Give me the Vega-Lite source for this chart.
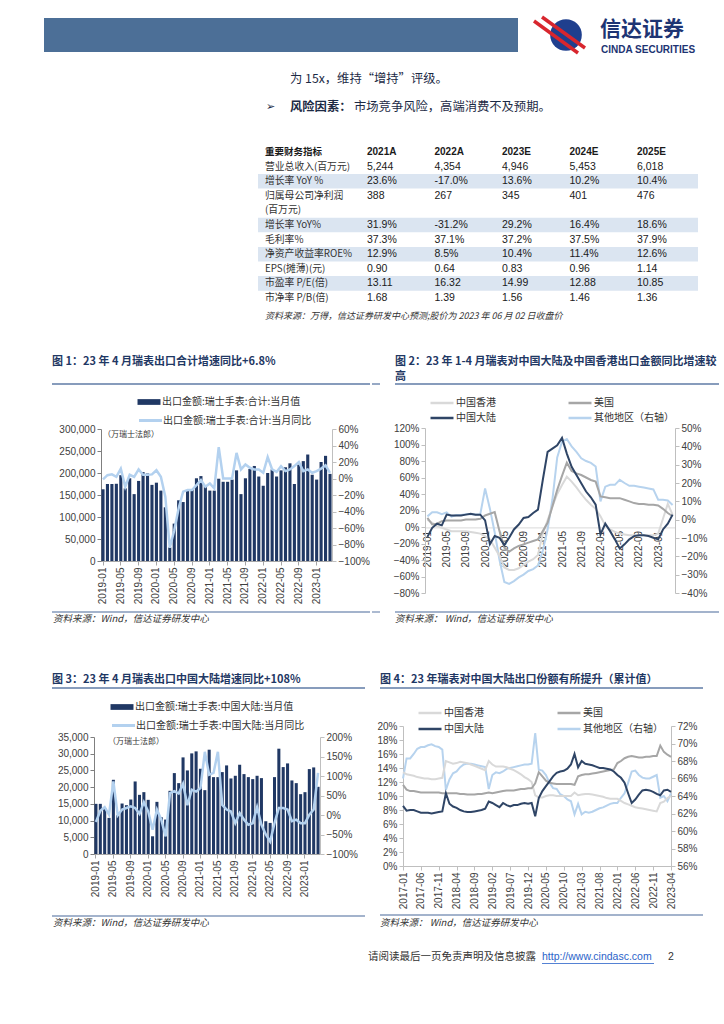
{
"$schema": "https://vega.github.io/schema/vega-lite/v6.json",
"padding": 0,
"background": "#ffffff",
"spacing": 0,
"resolve": {"scale": {"color": "independent"}, "legend": {"color": "independent"}},
"config": {
 "view": {"stroke": null},
 "font": "Noto Sans CJK SC",
 "axis": {"grid": false, "labelFont": "Liberation Sans", "labelFontSize": 10, "labelColor": "#404040", "domainColor": "#bfbfbf", "tickColor": "#bfbfbf", "tickSize": 4, "labelPadding": 2},
 "legend": {"labelFont": "Noto Sans CJK SC", "labelFontSize": 10, "labelColor": "#333333", "labelLimit": 400, "padding": 0}
},
"datasets": {
 "tbl": [
  {"指标": "重要财务指标", "2021A": "2021A", "2022A": "2022A", "2023E": "2023E", "2024E": "2024E", "2025E": "2025E"},
  {"指标": "营业总收入(百万元)", "2021A": "5,244", "2022A": "4,354", "2023E": "4,946", "2024E": "5,453", "2025E": "6,018"},
  {"指标": "增长率 YoY %", "2021A": "23.6%", "2022A": "-17.0%", "2023E": "13.6%", "2024E": "10.2%", "2025E": "10.4%"},
  {"指标": "归属母公司净利润\n(百万元)", "2021A": "388", "2022A": "267", "2023E": "345", "2024E": "401", "2025E": "476"},
  {"指标": "增长率 YoY%", "2021A": "31.9%", "2022A": "-31.2%", "2023E": "29.2%", "2024E": "16.4%", "2025E": "18.6%"},
  {"指标": "毛利率%", "2021A": "37.3%", "2022A": "37.1%", "2023E": "37.2%", "2024E": "37.5%", "2025E": "37.9%"},
  {"指标": "净资产收益率ROE%", "2021A": "12.9%", "2022A": "8.5%", "2023E": "10.4%", "2024E": "11.4%", "2025E": "12.6%"},
  {"指标": "EPS(摊薄)(元)", "2021A": "0.90", "2022A": "0.64", "2023E": "0.83", "2024E": "0.96", "2025E": "1.14"},
  {"指标": "市盈率 P/E(倍)", "2021A": "13.11", "2022A": "16.32", "2023E": "14.99", "2024E": "12.88", "2025E": "10.85"},
  {"指标": "市净率 P/B(倍)", "2021A": "1.68", "2022A": "1.39", "2023E": "1.56", "2024E": "1.46", "2025E": "1.36"}
 ],
 "c1": [
  {"月份":"2019-01","当月值":163000,"当月同比":-0.01},{"月份":"2019-02","当月值":175000,"当月同比":0.04},{"月份":"2019-03","当月值":175000,"当月同比":0.05},{"月份":"2019-04","当月值":175500,"当月同比":0.02},
  {"月份":"2019-05","当月值":195000,"当月同比":0.12},{"月份":"2019-06","当月值":165000,"当月同比":-0.10},{"月份":"2019-07","当月值":188000,"当月同比":0.045},{"月份":"2019-08","当月值":152000,"当月同比":0.02},
  {"月份":"2019-09","当月值":182000,"当月同比":0.11},{"月份":"2019-10","当月值":202000,"当月同比":0.045},{"月份":"2019-11","当月值":199000,"当月同比":0.045},{"月份":"2019-12","当月值":173000,"当月同比":0.05},
  {"月份":"2020-01","当月值":178000,"当月同比":0.10},{"月份":"2020-02","当月值":160000,"当月同比":0.02},{"月份":"2020-03","当月值":122000,"当月同比":-0.22},{"月份":"2020-04","当月值":31000,"当月同比":-0.84},
  {"月份":"2020-05","当月值":85000,"当月同比":-0.63},{"月份":"2020-06","当月值":138000,"当月同比":-0.36},{"月份":"2020-07","当月值":134000,"当月同比":-0.16},{"月份":"2020-08","当月值":160000,"当月同比":-0.14},
  {"月份":"2020-09","当月值":162000,"当月同比":-0.14},{"月份":"2020-10","当月值":188000,"当月同比":-0.08},{"月份":"2020-11","当月值":193000,"当月同比":-0.02},{"月份":"2020-12","当月值":171000,"当月同比":-0.10},
  {"月份":"2021-01","当月值":160000,"当月同比":-0.06},{"月份":"2021-02","当月值":160000,"当月同比":-0.12},{"月份":"2021-03","当月值":187000,"当月同比":0.38},{"月份":"2021-04","当月值":180000,"当月同比":0.0},
  {"月份":"2021-05","当月值":180000,"当月同比":0.0},{"月份":"2021-06","当月值":185000,"当月同比":0.0},{"月份":"2021-07","当月值":206000,"当月同比":0.31},{"月份":"2021-08","当月值":152000,"当月同比":0.11},
  {"月份":"2021-09","当月值":188000,"当月同比":0.17},{"月份":"2021-10","当月值":209000,"当月同比":0.13},{"月份":"2021-11","当月值":216000,"当月同比":0.11},{"月份":"2021-12","当月值":192000,"当月同比":0.11},
  {"月份":"2022-01","当月值":171000,"当月同比":0.07},{"月份":"2022-02","当月值":200000,"当月同比":0.26},{"月份":"2022-03","当月值":208000,"当月同比":0.11},{"月份":"2022-04","当月值":192000,"当月同比":0.08},
  {"月份":"2022-05","当月值":206000,"当月同比":0.15},{"月份":"2022-06","当月值":213000,"当月同比":0.09},{"月份":"2022-07","当月值":222000,"当月同比":0.11},{"月份":"2022-08","当月值":175000,"当月同比":0.15},
  {"月份":"2022-09","当月值":219000,"当月同比":0.20},{"月份":"2022-10","当月值":227000,"当月同比":0.09},{"月份":"2022-11","当月值":242000,"当月同比":0.11},{"月份":"2022-12","当月值":196000,"当月同比":0.07},
  {"月份":"2023-01","当月值":185000,"当月同比":0.09},{"月份":"2023-02","当月值":225000,"当月同比":0.12},{"月份":"2023-03","当月值":239000,"当月同比":0.16},{"月份":"2023-04","当月值":198000,"当月同比":0.068}
 ],
 "c3": [
  {"月份":"2019-01","当月值":15000,"当月同比":-0.18},{"月份":"2019-02","当月值":15000,"当月同比":0.11},{"月份":"2019-03","当月值":13800,"当月同比":0.20},{"月份":"2019-04","当月值":10800,"当月同比":0.01},
  {"月份":"2019-05","当月值":22200,"当月同比":0.86},{"月份":"2019-06","当月值":11600,"当月同比":-0.01},{"月份":"2019-07","当月值":15100,"当月同比":0.14},{"月份":"2019-08","当月值":14600,"当月同比":0.18},
  {"月份":"2019-09","当月值":16300,"当月同比":0.22},{"月份":"2019-10","当月值":21700,"当月同比":0.18},{"月份":"2019-11","当月值":17700,"当月同比":0.03},{"月份":"2019-12","当月值":18500,"当月同比":0.33},
  {"月份":"2020-01","当月值":16200,"当月同比":0.09},{"月份":"2020-02","当月值":5300,"当月同比":-0.38},{"月份":"2020-03","当月值":15600,"当月同比":0.14},{"月份":"2020-04","当月值":11000,"当月同比":-0.12},
  {"月份":"2020-05","当月值":10300,"当月同比":-0.55},{"月份":"2020-06","当月值":18900,"当月同比":0.56},{"月份":"2020-07","当月值":24200,"当月同比":0.61},{"月份":"2020-08","当月值":21200,"当月同比":0.55},
  {"月份":"2020-09","当月值":28900,"当月同比":0.80},{"月份":"2020-10","当月值":25000,"当月同比":0.25},{"月份":"2020-11","当月值":30100,"当月同比":0.65},{"月份":"2020-12","当月值":30700,"当月同比":0.60},
  {"月份":"2021-01","当月值":25500,"当月同比":0.69},{"月份":"2021-02","当月值":19100,"当月同比":1.62},{"月份":"2021-03","当月值":31200,"当月同比":1.03},{"月份":"2021-04","当月值":23000,"当月同比":1.08},
  {"月份":"2021-05","当月值":23000,"当月同比":1.62},{"月份":"2021-06","当月值":24500,"当月同比":0.26},{"月份":"2021-07","当月值":26500,"当月同比":0.14},{"月份":"2021-08","当月值":22600,"当月同比":0.09},
  {"月份":"2021-09","当月值":23400,"当月同比":-0.21},{"月份":"2021-10","当月值":26700,"当月同比":0.05},{"月份":"2021-11","当月值":23900,"当月同比":-0.12},{"月份":"2021-12","当月值":23000,"当月同比":-0.25},
  {"月份":"2022-01","当月值":22400,"当月同比":-0.21},{"月份":"2022-02","当月值":23400,"当月同比":0.20},{"月份":"2022-03","当月值":22700,"当月同比":-0.25},{"月份":"2022-04","当月值":9800,"当月同比":-0.50},
  {"月份":"2022-05","当月值":9300,"当月同比":-0.68},{"月份":"2022-06","当月值":23000,"当月同比":-0.21},{"月份":"2022-07","当月值":31500,"当月同比":0.18},{"月份":"2022-08","当月值":26000,"当月同比":0.18},
  {"月份":"2022-09","当月值":27100,"当月同比":0.14},{"月份":"2022-10","当月值":22000,"当月同比":-0.16},{"月份":"2022-11","当月值":21200,"当月同比":-0.12},{"月份":"2022-12","当月值":17900,"当月同比":-0.21},
  {"月份":"2023-01","当月值":18500,"当月同比":-0.21},{"月份":"2023-02","当月值":25400,"当月同比":0.01},{"月份":"2023-03","当月值":25900,"当月同比":0.14},{"月份":"2023-04","当月值":20100,"当月同比":1.08}
 ],
 "c2": [
  {"月份":"2019-01","中国香港":0.09,"美国":0.11,"中国大陆":-0.12,"其他地区":0.018},{"月份":"2019-02","中国香港":0.05,"美国":0.03,"中国大陆":-0.01,"其他地区":0.04},
  {"月份":"2019-03","中国香港":0.01,"美国":0.04,"中国大陆":0.04,"其他地区":0.04},{"月份":"2019-04","中国香港":-0.01,"美国":0.07,"中国大陆":0.02,"其他地区":0.03},
  {"月份":"2019-05","中国香港":-0.03,"美国":0.08,"中国大陆":0.15,"其他地区":0.04},{"月份":"2019-06","中国香港":-0.05,"美国":0.08,"中国大陆":0.14,"其他地区":0.016},
  {"月份":"2019-07","中国香港":-0.05,"美国":0.08,"中国大陆":0.14,"其他地区":0.025},{"月份":"2019-08","中国香港":-0.05,"美国":0.08,"中国大陆":0.14,"其他地区":0.025},
  {"月份":"2019-09","中国香港":-0.05,"美国":0.09,"中国大陆":0.15,"其他地区":0.03},{"月份":"2019-10","中国香港":-0.06,"美国":0.09,"中国大陆":0.16,"其他地区":0.03},
  {"月份":"2019-11","中国香港":-0.07,"美国":0.09,"中国大陆":0.15,"其他地区":0.028},{"月份":"2019-12","中国香港":-0.08,"美国":0.10,"中国大陆":0.15,"其他地区":0.03},
  {"月份":"2020-01","中国香港":-0.11,"美国":0.14,"中国大陆":0.08,"其他地区":0.17},{"月份":"2020-02","中国香港":-0.15,"美国":0.16,"中国大陆":-0.21,"其他地区":0.06},
  {"月份":"2020-03","中国香港":-0.25,"美国":0.18,"中国大陆":-0.11,"其他地区":-0.07},{"月份":"2020-04","中国香港":-0.35,"美国":-0.05,"中国大陆":-0.13,"其他地区":-0.22},
  {"月份":"2020-05","中国香港":-0.49,"美国":-0.25,"中国大陆":-0.22,"其他地区":-0.34},{"月份":"2020-06","中国香港":-0.52,"美国":-0.30,"中国大陆":-0.13,"其他地区":-0.35},
  {"月份":"2020-07","中国香港":-0.52,"美国":-0.26,"中国大陆":-0.03,"其他地区":-0.335},{"月份":"2020-08","中国香港":-0.50,"美国":-0.23,"中国大陆":0.03,"其他地区":-0.315},
  {"月份":"2020-09","中国香港":-0.46,"美国":-0.21,"中国大陆":0.11,"其他地区":-0.30},{"月份":"2020-10","中国香港":-0.42,"美国":-0.19,"中国大陆":0.12,"其他地区":-0.28},
  {"月份":"2020-11","中国香港":-0.39,"美国":-0.17,"中国大陆":0.17,"其他地区":-0.27},{"月份":"2020-12","中国香港":-0.34,"美国":-0.15,"中国大陆":0.21,"其他地区":-0.25},
  {"月份":"2021-01","中国香港":-0.08,"美国":-0.05,"中国大陆":0.57,"其他地区":-0.17},{"月份":"2021-02","中国香港":0.08,"美国":0.05,"中国大陆":0.91,"其他地区":-0.054},
  {"月份":"2021-03","中国香港":0.25,"美国":0.25,"中国大陆":0.95,"其他地区":0.11},{"月份":"2021-04","中国香港":0.40,"美国":0.45,"中国大陆":0.99,"其他地区":0.34},
  {"月份":"2021-05","中国香港":0.51,"美国":0.62,"中国大陆":1.08,"其他地区":0.425},{"月份":"2021-06","中国香港":0.61,"美国":0.78,"中国大陆":0.89,"其他地区":0.44},
  {"月份":"2021-07","中国香港":0.55,"美国":0.68,"中国大陆":0.73,"其他地区":0.40},{"月份":"2021-08","中国香港":0.48,"美国":0.65,"中国大陆":0.63,"其他地区":0.37},
  {"月份":"2021-09","中国香港":0.40,"美国":0.63,"中国大陆":0.53,"其他地区":0.335},{"月份":"2021-10","中国香港":0.33,"美国":0.60,"中国大陆":0.43,"其他地区":0.32},
  {"月份":"2021-11","中国香港":0.27,"美国":0.57,"中国大陆":0.36,"其他地区":0.31},{"月份":"2021-12","中国香港":0.22,"美国":0.55,"中国大陆":0.27,"其他地区":0.29},
  {"月份":"2022-01","中国香港":0.13,"美国":0.37,"中国大陆":-0.09,"其他地区":0.10},{"月份":"2022-02","中国香港":0.02,"美国":0.36,"中国大陆":0.04,"其他地区":0.18},
  {"月份":"2022-03","中国香港":-0.03,"美国":0.35,"中国大陆":-0.05,"其他地区":0.19},{"月份":"2022-04","中国香港":-0.06,"美国":0.35,"中国大陆":-0.15,"其他地区":0.19},
  {"月份":"2022-05","中国香港":-0.08,"美国":0.35,"中国大陆":-0.26,"其他地区":0.217},{"月份":"2022-06","中国香港":-0.09,"美国":0.33,"中国大陆":-0.21,"其他地区":0.20},
  {"月份":"2022-07","中国香港":-0.10,"美国":0.31,"中国大陆":-0.15,"其他地区":0.185},{"月份":"2022-08","中国香港":-0.10,"美国":0.29,"中国大陆":-0.11,"其他地区":0.185},
  {"月份":"2022-09","中国香港":-0.10,"美国":0.28,"中国大陆":-0.10,"其他地区":0.18},{"月份":"2022-10","中国香港":-0.10,"美国":0.28,"中国大陆":-0.10,"其他地区":0.175},
  {"月份":"2022-11","中国香港":-0.10,"美国":0.27,"中国大陆":-0.11,"其他地区":0.17},{"月份":"2022-12","中国香港":-0.10,"美国":0.27,"中国大陆":-0.13,"其他地区":0.165},
  {"月份":"2023-01","中国香港":-0.08,"美国":0.26,"中国大陆":-0.15,"其他地区":0.109},{"月份":"2023-02","中国香港":0.10,"美国":0.22,"中国大陆":-0.03,"其他地区":0.109},
  {"月份":"2023-03","中国香港":0.28,"美国":0.17,"中国大陆":0.04,"其他地区":0.105},{"月份":"2023-04","中国香港":0.15,"美国":0.13,"中国大陆":0.15,"其他地区":0.08}
 ],
 "c4": [
  {"月份":"2017-01","中国香港":0.134,"美国":0.116,"中国大陆":0.086,"其他地区":0.660},{"月份":"2017-02","中国香港":0.131,"美国":0.109,"中国大陆":0.079,"其他地区":0.683},
  {"月份":"2017-03","中国香港":0.130,"美国":0.107,"中国大陆":0.080,"其他地区":0.683},{"月份":"2017-04","中国香港":0.129,"美国":0.107,"中国大陆":0.080,"其他地区":0.688},
  {"月份":"2017-05","中国香港":0.127,"美国":0.106,"中国大陆":0.078,"其他地区":0.694},{"月份":"2017-06","中国香港":0.126,"美国":0.105,"中国大陆":0.076,"其他地区":0.696},
  {"月份":"2017-07","中国香港":0.125,"美国":0.105,"中国大陆":0.076,"其他地区":0.696},{"月份":"2017-08","中国香港":0.125,"美国":0.105,"中国大陆":0.076,"其他地区":0.698},
  {"月份":"2017-09","中国香港":0.124,"美国":0.105,"中国大陆":0.075,"其他地区":0.699},{"月份":"2017-10","中国香港":0.124,"美国":0.105,"中国大陆":0.076,"其他地区":0.697},
  {"月份":"2017-11","中国香港":0.125,"美国":0.105,"中国大陆":0.077,"其他地区":0.696},{"月份":"2017-12","中国香港":0.126,"美国":0.104,"中国大陆":0.078,"其他地区":0.693},
  {"月份":"2018-01","中国香港":0.150,"美国":0.104,"中国大陆":0.104,"其他地区":0.647},{"月份":"2018-02","中国香港":0.148,"美国":0.104,"中国大陆":0.089,"其他地区":0.659},
  {"月份":"2018-03","中国香港":0.146,"美国":0.104,"中国大陆":0.085,"其他地区":0.666},{"月份":"2018-04","中国香港":0.147,"美国":0.104,"中国大陆":0.083,"其他地区":0.668},
  {"月份":"2018-05","中国香港":0.149,"美国":0.103,"中国大陆":0.080,"其他地区":0.673},{"月份":"2018-06","中国香港":0.148,"美国":0.103,"中国大陆":0.078,"其他地区":0.676},
  {"月份":"2018-07","中国香港":0.147,"美国":0.102,"中国大陆":0.077,"其他地区":0.677},{"月份":"2018-08","中国香港":0.145,"美国":0.102,"中国大陆":0.077,"其他地区":0.677},
  {"月份":"2018-09","中国香港":0.143,"美国":0.102,"中国大陆":0.078,"其他地区":0.676},{"月份":"2018-10","中国香港":0.141,"美国":0.103,"中国大陆":0.079,"其他地区":0.675},
  {"月份":"2018-11","中国香港":0.139,"美国":0.103,"中国大陆":0.080,"其他地区":0.674},{"月份":"2018-12","中国香港":0.137,"美国":0.104,"中国大陆":0.082,"其他地区":0.673},
  {"月份":"2019-01","中国香港":0.150,"美国":0.105,"中国大陆":0.092,"其他地区":0.648},{"月份":"2019-02","中国香港":0.145,"美国":0.104,"中国大陆":0.090,"其他地区":0.664},
  {"月份":"2019-03","中国香港":0.142,"美国":0.105,"中国大陆":0.087,"其他地区":0.667},{"月份":"2019-04","中国香港":0.142,"美国":0.106,"中国大陆":0.084,"其他地区":0.666},
  {"月份":"2019-05","中国香港":0.142,"美国":0.107,"中国大陆":0.090,"其他地区":0.668},{"月份":"2019-06","中国香港":0.141,"美国":0.108,"中国大陆":0.087,"其他地区":0.671},
  {"月份":"2019-07","中国香港":0.139,"美国":0.108,"中国大陆":0.085,"其他地区":0.672},{"月份":"2019-08","中国香港":0.137,"美国":0.108,"中国大陆":0.087,"其他地区":0.673},
  {"月份":"2019-09","中国香港":0.134,"美国":0.109,"中国大陆":0.087,"其他地区":0.674},{"月份":"2019-10","中国香港":0.131,"美国":0.110,"中国大陆":0.089,"其他地区":0.675},
  {"月份":"2019-11","中国香港":0.127,"美国":0.110,"中国大陆":0.090,"其他地区":0.676},{"月份":"2019-12","中国香港":0.124,"美国":0.111,"中国大陆":0.089,"其他地区":0.676},
  {"月份":"2020-01","中国香港":0.120,"美国":0.111,"中国大陆":0.090,"其他地区":0.677},{"月份":"2020-02","中国香港":0.101,"美国":0.118,"中国大陆":0.071,"其他地区":0.712},
  {"月份":"2020-03","中国香港":0.098,"美国":0.134,"中国大陆":0.097,"其他地区":0.670},{"月份":"2020-04","中国香港":0.098,"美国":0.128,"中国大陆":0.107,"其他地区":0.669},
  {"月份":"2020-05","中国香港":0.100,"美国":0.122,"中国大陆":0.114,"其他地区":0.664},{"月份":"2020-06","中国香港":0.101,"美国":0.119,"中国大陆":0.121,"其他地区":0.655},
  {"月份":"2020-07","中国香港":0.101,"美国":0.118,"中国大陆":0.128,"其他地区":0.649},{"月份":"2020-08","中国香港":0.100,"美国":0.117,"中国大陆":0.133,"其他地区":0.648},
  {"月份":"2020-09","中国香港":0.100,"美国":0.117,"中国大陆":0.135,"其他地区":0.642},{"月份":"2020-10","中国香港":0.100,"美国":0.117,"中国大陆":0.136,"其他地区":0.640},
  {"月份":"2020-11","中国香港":0.100,"美国":0.117,"中国大陆":0.139,"其他地区":0.636},{"月份":"2020-12","中国香港":0.100,"美国":0.117,"中国大陆":0.145,"其他地区":0.634},
  {"月份":"2021-01","中国香港":0.105,"美国":0.116,"中国大陆":0.160,"其他地区":0.619},{"月份":"2021-02","中国香港":0.101,"美国":0.128,"中国大陆":0.141,"其他地区":0.631},
  {"月份":"2021-03","中国香港":0.102,"美国":0.130,"中国大陆":0.150,"其他地区":0.619},{"月份":"2021-04","中国香港":0.103,"美国":0.131,"中国大陆":0.146,"其他地区":0.622},
  {"月份":"2021-05","中国香港":0.103,"美国":0.131,"中国大陆":0.145,"其他地区":0.621},{"月份":"2021-06","中国香港":0.102,"美国":0.132,"中国大陆":0.144,"其他地区":0.622},
  {"月份":"2021-07","中国香港":0.101,"美国":0.133,"中国大陆":0.142,"其他地区":0.624},{"月份":"2021-08","中国香港":0.100,"美国":0.134,"中国大陆":0.140,"其他地区":0.626},
  {"月份":"2021-09","中国香港":0.099,"美国":0.135,"中国大陆":0.140,"其他地区":0.627},{"月份":"2021-10","中国香港":0.097,"美国":0.136,"中国大陆":0.139,"其他地区":0.629},
  {"月份":"2021-11","中国香港":0.096,"美国":0.137,"中国大陆":0.138,"其他地区":0.631},{"月份":"2021-12","中国香港":0.096,"美国":0.138,"中国大陆":0.135,"其他地区":0.632},
  {"月份":"2022-01","中国香港":0.096,"美国":0.147,"中国大陆":0.130,"其他地区":0.632},{"月份":"2022-02","中国香港":0.093,"美国":0.150,"中国大陆":0.126,"其他地区":0.638},
  {"月份":"2022-03","中国香港":0.090,"美国":0.154,"中国大陆":0.119,"其他地区":0.643},{"月份":"2022-04","中国香港":0.088,"美国":0.156,"中国大陆":0.104,"其他地区":0.655},
  {"月份":"2022-05","中国香港":0.086,"美国":0.157,"中国大陆":0.090,"其他地区":0.668},{"月份":"2022-06","中国香港":0.084,"美国":0.156,"中国大陆":0.095,"其他地区":0.669},
  {"月份":"2022-07","中国香港":0.083,"美国":0.155,"中国大陆":0.102,"其他地区":0.664},{"月份":"2022-08","中国香港":0.082,"美国":0.155,"中国大陆":0.108,"其他地区":0.661},
  {"月份":"2022-09","中国香港":0.081,"美国":0.156,"中国大陆":0.109,"其他地区":0.660},{"月份":"2022-10","中国香港":0.080,"美国":0.156,"中国大陆":0.108,"其他地区":0.660},
  {"月份":"2022-11","中国香港":0.079,"美国":0.157,"中国大陆":0.106,"其他地区":0.662},{"月份":"2022-12","中国香港":0.078,"美国":0.157,"中国大陆":0.103,"其他地区":0.664},
  {"月份":"2023-01","中国香港":0.090,"美国":0.172,"中国大陆":0.101,"其他地区":0.638},{"月份":"2023-02","中国香港":0.092,"美国":0.163,"中国大陆":0.108,"其他地区":0.640},
  {"月份":"2023-03","中国香港":0.097,"美国":0.159,"中国大陆":0.109,"其他地区":0.634},{"月份":"2023-04","中国香港":0.100,"美国":0.156,"中国大陆":0.106,"其他地区":0.643}
 ]
},
"vconcat": [
 {
  "width": 724, "height": 125,
  "layer": [
   {"data": {"values": [{"k": "band"}]}, "mark": {"type": "rect", "color": "#4c6f97"}, "encoding": {"x": {"value": 44}, "x2": {"value": 518}, "y": {"value": 18}, "y2": {"value": 52}}},
   {"data": {"values": [{"k": "logo"}]}, "mark": {"type": "point", "shape": "circle", "filled": true, "color": "#1f3f8e", "opacity": 1, "size": 1000}, "encoding": {"x": {"value": 566}, "y": {"value": 35}}},
   {"data": {"values": [{"k": "s1"}]}, "mark": {"type": "rule", "color": "#d8262e", "strokeWidth": 3.5}, "encoding": {"x": {"value": 534}, "y": {"value": 21}, "x2": {"value": 578}, "y2": {"value": 53}}},
   {"data": {"values": [{"k": "s2"}]}, "mark": {"type": "rule", "color": "#d8262e", "strokeWidth": 3.5}, "encoding": {"x": {"value": 542}, "y": {"value": 17}, "x2": {"value": 585}, "y2": {"value": 48}}},
   {"data": {"values": [{"t": "信达证券"}]}, "mark": {"type": "text", "align": "left", "baseline": "middle", "fontSize": 21, "fontWeight": "bold", "color": "#1d3473"}, "encoding": {"x": {"value": 600}, "y": {"value": 30}, "text": {"field": "t"}}},
   {"data": {"values": [{"t": "CINDA SECURITIES"}]}, "mark": {"type": "text", "align": "left", "baseline": "middle", "font": "Liberation Sans", "fontSize": 10, "fontWeight": "bold", "color": "#1d3473"}, "encoding": {"x": {"value": 601}, "y": {"value": 50}, "text": {"field": "t"}}},
   {"data": {"values": [{"t": "为 15x，维持“增持”评级。"}]}, "mark": {"type": "text", "align": "left", "baseline": "middle", "fontSize": 12.3, "color": "#1c2a45"}, "encoding": {"x": {"value": 290}, "y": {"value": 79}, "text": {"field": "t"}}},
   {"data": {"values": [{"t": "➢"}]}, "mark": {"type": "text", "align": "left", "baseline": "middle", "font": "DejaVu Sans", "fontSize": 11, "color": "#1c2a45"}, "encoding": {"x": {"value": 266}, "y": {"value": 107}, "text": {"field": "t"}}},
   {"data": {"values": [{"t": "风险因素："}]}, "mark": {"type": "text", "align": "left", "baseline": "middle", "fontSize": 12.3, "fontWeight": "bold", "color": "#1c2a45"}, "encoding": {"x": {"value": 290}, "y": {"value": 107}, "text": {"field": "t"}}},
   {"data": {"values": [{"t": "市场竞争风险，高端消费不及预期。"}]}, "mark": {"type": "text", "align": "left", "baseline": "middle", "fontSize": 12.3, "color": "#1c2a45"}, "encoding": {"x": {"value": 354}, "y": {"value": 107}, "text": {"field": "t"}}}
  ]
 },
 {
  "width": 724, "height": 205,
  "layer": [
   {"data": {"name": "tbl"}, "transform": [{"filter": {"field": "指标", "oneOf": ["增长率 YoY %", "增长率 YoY%", "净资产收益率ROE%", "市盈率 P/E(倍)"]}}],
    "mark": {"type": "rect", "color": "#dbe5f1"},
    "encoding": {"x": {"value": 258}, "x2": {"value": 698},
     "y": {"field": "指标", "type": "nominal", "axis": null, "scale": {"type": "band", "domain": ["重要财务指标", "营业总收入(百万元)", "增长率 YoY %", "归属母公司净利润\n(百万元)", "_", "增长率 YoY%", "毛利率%", "净资产收益率ROE%", "EPS(摊薄)(元)", "市盈率 P/E(倍)", "市净率 P/B(倍)"], "range": [19.7, 180.3], "paddingInner": 0, "paddingOuter": 0}}}},
   {"data": {"name": "tbl"}, "transform": [{"filter": "datum['指标'] !== '重要财务指标'"}],
    "mark": {"type": "text", "align": "left", "baseline": "middle", "fontSize": 9.8, "color": "#333333", "lineBreak": "\n", "lineHeight": 14.6},
    "encoding": {"x": {"value": 265}, "y": {"field": "指标", "type": "nominal"}, "text": {"field": "指标"}}},
   {"data": {"name": "tbl"}, "transform": [{"filter": "datum['指标'] === '重要财务指标'"}],
    "mark": {"type": "text", "align": "left", "baseline": "middle", "fontSize": 9.5, "fontWeight": "bold", "color": "#1a1a1a"},
    "encoding": {"x": {"value": 265}, "y": {"field": "指标", "type": "nominal"}, "text": {"field": "指标"}}},
   {"data": {"name": "tbl"}, "transform": [{"filter": "datum['指标'] !== '重要财务指标' && indexof(datum['指标'], '归属') < 0"}, {"fold": ["2021A", "2022A", "2023E", "2024E", "2025E"], "as": ["年份", "数值"]}],
    "mark": {"type": "text", "align": "left", "baseline": "middle", "font": "Liberation Sans", "fontSize": 10.5, "color": "#1a1a1a"},
    "encoding": {"x": {"field": "年份", "type": "ordinal", "axis": null, "scale": {"type": "point", "domain": ["2021A", "2022A", "2023E", "2024E", "2025E"], "range": [367, 637], "padding": 0}}, "y": {"field": "指标", "type": "nominal"}, "text": {"field": "数值"}}},
   {"data": {"name": "tbl"}, "transform": [{"filter": "indexof(datum['指标'], '归属') === 0"}, {"fold": ["2021A", "2022A", "2023E", "2024E", "2025E"], "as": ["年份", "数值"]}],
    "mark": {"type": "text", "align": "left", "baseline": "middle", "font": "Liberation Sans", "fontSize": 10.5, "color": "#1a1a1a"},
    "encoding": {"x": {"field": "年份", "type": "ordinal"}, "y": {"field": "指标", "type": "nominal"}, "yOffset": {"value": 7.3}, "text": {"field": "数值"}}},
   {"data": {"name": "tbl"}, "transform": [{"filter": "datum['指标'] === '重要财务指标'"}, {"fold": ["2021A", "2022A", "2023E", "2024E", "2025E"], "as": ["年份", "数值"]}],
    "mark": {"type": "text", "align": "left", "baseline": "middle", "font": "Liberation Sans", "fontSize": 10, "fontWeight": "bold", "color": "#1a1a1a"},
    "encoding": {"x": {"field": "年份", "type": "ordinal"}, "y": {"field": "指标", "type": "nominal"}, "text": {"field": "数值"}}},
   {"data": {"values": [{"t": "资料来源：万得，信达证券研发中心预测;股价为 2023 年 06 月 02 日收盘价"}]}, "mark": {"type": "text", "align": "left", "baseline": "middle", "fontSize": 9, "fontStyle": "italic", "color": "#333333"}, "encoding": {"x": {"value": 265}, "y": {"value": 191}, "text": {"field": "t"}}}
  ]
 },
 {
  "spacing": 0,
  "resolve": {"scale": {"color": "independent"}, "legend": {"color": "independent"}},
  "hconcat": [
   {
    "width": 370, "height": 320,
    "layer": [
     {"data": {"name": "c1"}, "mark": {"type": "bar"},
      "encoding": {
       "x": {"field": "月份", "type": "ordinal", "scale": {"type": "band", "range": [101, 332], "paddingInner": 0.3, "paddingOuter": 0.1},
        "axis": {"orient": "bottom", "offset": -89, "title": null, "labelAngle": 270, "domainColor": "#a6a6a6", "tickColor": "#a6a6a6", "values": ["2019-01","2019-05","2019-09","2020-01","2020-05","2020-09","2021-01","2021-05","2021-09","2022-01","2022-05","2022-09","2023-01"]}},
       "y": {"field": "当月值", "type": "quantitative", "scale": {"domain": [0, 300000], "range": [231, 99], "nice": false},
        "axis": {"orient": "left", "offset": -101, "title": null, "format": ",d", "values": [0, 50000, 100000, 150000, 200000, 250000, 300000], "domainColor": "#7f7f7f", "tickColor": "#7f7f7f"}},
       "color": {"datum": "出口金额:瑞士手表:合计:当月值", "scale": {"range": ["#203864"]},
        "legend": {"title": null, "orient": "none", "legendX": 143, "legendY": 66, "symbolType": "M-2,-0.5H2V0.5H-2Z", "symbolSize": 132, "symbolStrokeWidth": 0, "labelOffset": 7}}
      }},
     {"data": {"name": "c1"}, "mark": {"type": "line", "strokeWidth": 2.5},
      "encoding": {
       "x": {"field": "月份", "type": "ordinal"},
       "y": {"field": "当月同比", "type": "quantitative", "scale": {"domain": [-1, 0.6], "range": [231, 99], "nice": false, "zero": false},
        "axis": {"orient": "right", "offset": -38, "title": null, "format": ".0%", "values": [-1, -0.8, -0.6, -0.4, -0.2, 0, 0.2, 0.4, 0.6]}},
       "color": {"datum": "出口金额:瑞士手表:合计:当月同比", "scale": {"range": ["#b3d1ef"]},
        "legend": {"title": null, "orient": "none", "legendX": 143, "legendY": 83, "symbolType": "M-2,0H2", "symbolSize": 132, "symbolStrokeWidth": 3, "labelOffset": 5}}
      }},
     {"data": {"values": [{"t": "（万瑞士法郎）"}]}, "mark": {"type": "text", "align": "left", "baseline": "middle", "fontSize": 8, "color": "#333333"}, "encoding": {"x": {"value": 103}, "y": {"value": 105}, "text": {"field": "t"}}},
     {"data": {"values": [{"t": "图 1：23 年 4 月瑞表出口合计增速同比+6.8%"}]}, "mark": {"type": "text", "align": "left", "baseline": "middle", "fontSize": 11, "fontWeight": "bold", "color": "#1f3864"}, "encoding": {"x": {"value": 52}, "y": {"value": 32}, "text": {"field": "t"}}},
     {"data": {"values": [{"k": "u"}]}, "mark": {"type": "rule", "color": "#5f7ba6", "strokeWidth": 1.3}, "encoding": {"x": {"value": 52}, "x2": {"value": 370}, "y": {"value": 54}}},
     {"data": {"values": [{"k": "b"}]}, "mark": {"type": "rule", "color": "#a3b3cc", "strokeWidth": 1.8}, "encoding": {"x": {"value": 52}, "x2": {"value": 370}, "y": {"value": 282}}},
     {"data": {"values": [{"t": "资料来源：Wind，信达证券研发中心"}]}, "mark": {"type": "text", "align": "left", "baseline": "middle", "fontSize": 9.5, "fontStyle": "italic", "color": "#333333"}, "encoding": {"x": {"value": 53}, "y": {"value": 289}, "text": {"field": "t"}}}
    ],
    "resolve": {"scale": {"y": "independent", "color": "independent"}}
   },
   {
    "width": 354, "height": 320,
    "layer": [
     {"data": {"name": "c2"}, "mark": {"type": "line", "strokeWidth": 2},
      "encoding": {
       "x": {"field": "月份", "type": "ordinal", "scale": {"type": "point", "range": [53, 303], "padding": 0.5},
        "axis": {"orient": "bottom", "offset": -122.6, "title": null, "labelAngle": 270, "ticks": false, "labelPadding": 3, "domainColor": "#d9d9d9", "values": ["2019-01","2019-05","2019-09","2020-01","2020-05","2020-09","2021-01","2021-05","2021-09","2022-01","2022-05","2022-09","2023-01"]}},
       "y": {"field": "其他地区", "type": "quantitative", "scale": {"domain": [-0.4, 0.5], "range": [263, 98], "nice": false, "zero": false},
        "axis": {"orient": "right", "offset": -51, "title": null, "format": ".0%", "values": [-0.4, -0.3, -0.2, -0.1, 0, 0.1, 0.2, 0.3, 0.4, 0.5]}},
       "color": {"datum": "其他地区（右轴）"}
      }},
     {"data": {"name": "c2"}, "transform": [{"fold": ["中国香港", "美国", "中国大陆"], "as": ["地区", "同比"]}],
      "mark": {"type": "line", "strokeWidth": 2},
      "encoding": {
       "x": {"field": "月份", "type": "ordinal"},
       "y": {"field": "同比", "type": "quantitative", "scale": {"domain": [-0.8, 1.2], "range": [263, 98], "nice": false, "zero": false},
        "axis": {"orient": "left", "offset": -53, "title": null, "format": ".0%", "values": [-0.8, -0.6, -0.4, -0.2, 0, 0.2, 0.4, 0.6, 0.8, 1.0, 1.2]}},
       "color": {"field": "地区", "type": "nominal", "scale": {"domain": ["中国香港", "美国", "中国大陆", "其他地区（右轴）"], "range": ["#d9d9d9", "#a6a6a6", "#2f4566", "#b7d3ee"]},
        "legend": {"title": null, "orient": "none", "legendX": 63, "legendY": 66, "direction": "horizontal", "columns": 2, "columnPadding": 67, "rowPadding": 3, "symbolType": "M-2,0H2", "symbolSize": 132, "symbolStrokeWidth": 2.5, "labelOffset": 7}}
      }},
     {"data": {"values": [{"t": "图 2：23 年 1-4 月瑞表对中国大陆及中国香港出口金额同比增速较"}]}, "mark": {"type": "text", "align": "left", "baseline": "middle", "fontSize": 11, "fontWeight": "bold", "color": "#1f3864"}, "encoding": {"x": {"value": 23}, "y": {"value": 32}, "text": {"field": "t"}}},
     {"data": {"values": [{"t": "高"}]}, "mark": {"type": "text", "align": "left", "baseline": "middle", "fontSize": 11, "fontWeight": "bold", "color": "#1f3864"}, "encoding": {"x": {"value": 23}, "y": {"value": 47}, "text": {"field": "t"}}},
     {"data": {"values": [{"k": "u"}]}, "mark": {"type": "rule", "color": "#5f7ba6", "strokeWidth": 1.3}, "encoding": {"x": {"value": 23}, "x2": {"value": 347}, "y": {"value": 54}}},
     {"data": {"values": [{"k": "u0"}]}, "mark": {"type": "rule", "color": "#5f7ba6", "strokeWidth": 1.3}, "encoding": {"x": {"value": 0}, "x2": {"value": 8}, "y": {"value": 54}}},
     {"data": {"values": [{"k": "b"}]}, "mark": {"type": "rule", "color": "#a3b3cc", "strokeWidth": 1.8}, "encoding": {"x": {"value": 23}, "x2": {"value": 347}, "y": {"value": 282}}},
     {"data": {"values": [{"k": "b0"}]}, "mark": {"type": "rule", "color": "#a3b3cc", "strokeWidth": 1.8}, "encoding": {"x": {"value": 0}, "x2": {"value": 8}, "y": {"value": 282}}},
     {"data": {"values": [{"t": "资料来源：  Wind，信达证券研发中心"}]}, "mark": {"type": "text", "align": "left", "baseline": "middle", "fontSize": 9.5, "fontStyle": "italic", "color": "#333333"}, "encoding": {"x": {"value": 23}, "y": {"value": 289}, "text": {"field": "t"}}}
    ],
    "resolve": {"scale": {"y": "independent"}}
   }
  ]
 },
 {
  "spacing": 0,
  "resolve": {"scale": {"color": "independent"}, "legend": {"color": "independent"}},
  "hconcat": [
   {
    "width": 370, "height": 290,
    "layer": [
     {"data": {"name": "c3"}, "mark": {"type": "bar"},
      "encoding": {
       "x": {"field": "月份", "type": "ordinal", "scale": {"type": "band", "range": [94, 320], "paddingInner": 0.3, "paddingOuter": 0.1},
        "axis": {"orient": "bottom", "offset": -86, "title": null, "labelAngle": 270, "domainColor": "#a6a6a6", "tickColor": "#a6a6a6", "values": ["2019-01","2019-05","2019-09","2020-01","2020-05","2020-09","2021-01","2021-05","2021-09","2022-01","2022-05","2022-09","2023-01"]}},
       "y": {"field": "当月值", "type": "quantitative", "scale": {"domain": [0, 35000], "range": [204, 87], "nice": false},
        "axis": {"orient": "left", "offset": -94, "title": null, "format": ",d", "values": [0, 5000, 10000, 15000, 20000, 25000, 30000, 35000], "domainColor": "#7f7f7f", "tickColor": "#7f7f7f"}},
       "color": {"datum": "出口金额:瑞士手表:中国大陆:当月值", "scale": {"range": ["#203864"]},
        "legend": {"title": null, "orient": "none", "legendX": 116, "legendY": 51, "symbolType": "M-2,-0.5H2V0.5H-2Z", "symbolSize": 132, "symbolStrokeWidth": 0, "labelOffset": 7}}
      }},
     {"data": {"name": "c3"}, "mark": {"type": "line", "strokeWidth": 2.5},
      "encoding": {
       "x": {"field": "月份", "type": "ordinal"},
       "y": {"field": "当月同比", "type": "quantitative", "scale": {"domain": [-1, 2], "range": [204, 87], "nice": false, "zero": false},
        "axis": {"orient": "right", "offset": -50, "title": null, "format": ".0%", "values": [-1, -0.5, 0, 0.5, 1, 1.5, 2]}},
       "color": {"datum": "出口金额:瑞士手表:中国大陆:当月同比", "scale": {"range": ["#b3d1ef"]},
        "legend": {"title": null, "orient": "none", "legendX": 116, "legendY": 68, "symbolType": "M-2,0H2", "symbolSize": 132, "symbolStrokeWidth": 3, "labelOffset": 5}}
      }},
     {"data": {"values": [{"t": "（万瑞士法郎）"}]}, "mark": {"type": "text", "align": "left", "baseline": "middle", "fontSize": 8, "color": "#333333"}, "encoding": {"x": {"value": 108}, "y": {"value": 92}, "text": {"field": "t"}}},
     {"data": {"values": [{"t": "图 3：23 年 4 月瑞表出口中国大陆增速同比+108%"}]}, "mark": {"type": "text", "align": "left", "baseline": "middle", "fontSize": 11, "fontWeight": "bold", "color": "#1f3864"}, "encoding": {"x": {"value": 52}, "y": {"value": 30}, "text": {"field": "t"}}},
     {"data": {"values": [{"k": "u"}]}, "mark": {"type": "rule", "color": "#5f7ba6", "strokeWidth": 1.3}, "encoding": {"x": {"value": 52}, "x2": {"value": 365}, "y": {"value": 38}}},
     {"data": {"values": [{"k": "b"}]}, "mark": {"type": "rule", "color": "#a3b3cc", "strokeWidth": 1.8}, "encoding": {"x": {"value": 52}, "x2": {"value": 365}, "y": {"value": 266}}},
     {"data": {"values": [{"t": "资料来源：Wind，信达证券研发中心"}]}, "mark": {"type": "text", "align": "left", "baseline": "middle", "fontSize": 9.5, "fontStyle": "italic", "color": "#333333"}, "encoding": {"x": {"value": 53}, "y": {"value": 273}, "text": {"field": "t"}}}
    ],
    "resolve": {"scale": {"y": "independent", "color": "independent"}}
   },
   {
    "width": 354, "height": 290,
    "layer": [
     {"data": {"name": "c4"}, "mark": {"type": "line", "strokeWidth": 2},
      "encoding": {
       "x": {"field": "月份", "type": "ordinal", "scale": {"type": "point", "range": [33, 301], "padding": 0},
        "axis": {"orient": "bottom", "offset": -74, "title": null, "labelAngle": 270, "values": ["2017-01","2017-06","2017-11","2018-04","2018-09","2019-02","2019-07","2019-12","2020-05","2020-10","2021-03","2021-08","2022-01","2022-06","2022-11","2023-04"]}},
       "y": {"field": "其他地区", "type": "quantitative", "scale": {"domain": [0.56, 0.72], "range": [216, 76], "nice": false, "zero": false},
        "axis": {"orient": "right", "offset": -53, "title": null, "format": ".0%", "values": [0.56, 0.58, 0.60, 0.62, 0.64, 0.66, 0.68, 0.70, 0.72]}},
       "color": {"datum": "其他地区（右轴）"}
      }},
     {"data": {"name": "c4"}, "transform": [{"fold": ["中国香港", "美国", "中国大陆"], "as": ["地区", "份额"]}],
      "mark": {"type": "line", "strokeWidth": 2},
      "encoding": {
       "x": {"field": "月份", "type": "ordinal"},
       "y": {"field": "份额", "type": "quantitative", "scale": {"domain": [0, 0.2], "range": [216, 76], "nice": false},
        "axis": {"orient": "left", "offset": -33, "title": null, "format": ".0%", "values": [0, 0.02, 0.04, 0.06, 0.08, 0.10, 0.12, 0.14, 0.16, 0.18, 0.20]}},
       "color": {"field": "地区", "type": "nominal", "scale": {"domain": ["中国香港", "美国", "中国大陆", "其他地区（右轴）"], "range": ["#d9d9d9", "#a6a6a6", "#2f4566", "#b7d3ee"]},
        "legend": {"title": null, "orient": "none", "legendX": 53, "legendY": 56, "direction": "horizontal", "columns": 2, "columnPadding": 68, "rowPadding": 4, "symbolType": "M-2,0H2", "symbolSize": 132, "symbolStrokeWidth": 2.5, "labelOffset": 7}}
      }},
     {"data": {"values": [{"t": "图 4：23 年瑞表对中国大陆出口份额有所提升（累计值）"}]}, "mark": {"type": "text", "align": "left", "baseline": "middle", "fontSize": 11, "fontWeight": "bold", "color": "#1f3864"}, "encoding": {"x": {"value": 10}, "y": {"value": 30}, "text": {"field": "t"}}},
     {"data": {"values": [{"k": "u"}]}, "mark": {"type": "rule", "color": "#5f7ba6", "strokeWidth": 1.3}, "encoding": {"x": {"value": 10}, "x2": {"value": 333}, "y": {"value": 38}}},
     {"data": {"values": [{"k": "b"}]}, "mark": {"type": "rule", "color": "#a3b3cc", "strokeWidth": 1.8}, "encoding": {"x": {"value": 10}, "x2": {"value": 333}, "y": {"value": 265}}},
     {"data": {"values": [{"t": "资料来源：   Wind，信达证券研发中心"}]}, "mark": {"type": "text", "align": "left", "baseline": "middle", "fontSize": 9.5, "fontStyle": "italic", "color": "#333333"}, "encoding": {"x": {"value": 10}, "y": {"value": 273}, "text": {"field": "t"}}}
    ],
    "resolve": {"scale": {"y": "independent"}}
   }
  ]
 },
 {
  "width": 724, "height": 84,
  "layer": [
   {"data": {"values": [{"t": "请阅读最后一页免责声明及信息披露"}]}, "mark": {"type": "text", "align": "left", "baseline": "middle", "fontSize": 10.5, "color": "#333333"}, "encoding": {"x": {"value": 368}, "y": {"value": 17}, "text": {"field": "t"}}},
   {"data": {"values": [{"t": "http://www.cindasc.com"}]}, "mark": {"type": "text", "align": "left", "baseline": "middle", "font": "Liberation Sans", "fontSize": 10.5, "color": "#2a62c9"}, "encoding": {"x": {"value": 542}, "y": {"value": 17}, "text": {"field": "t"}}},
   {"data": {"values": [{"k": "ul"}]}, "mark": {"type": "rule", "color": "#2a62c9", "strokeWidth": 0.8}, "encoding": {"x": {"value": 542}, "x2": {"value": 654}, "y": {"value": 23.5}}},
   {"data": {"values": [{"t": "2"}]}, "mark": {"type": "text", "align": "left", "baseline": "middle", "font": "Liberation Sans", "fontSize": 10.5, "color": "#333333"}, "encoding": {"x": {"value": 668}, "y": {"value": 17}, "text": {"field": "t"}}}
  ]
 }
]
}
